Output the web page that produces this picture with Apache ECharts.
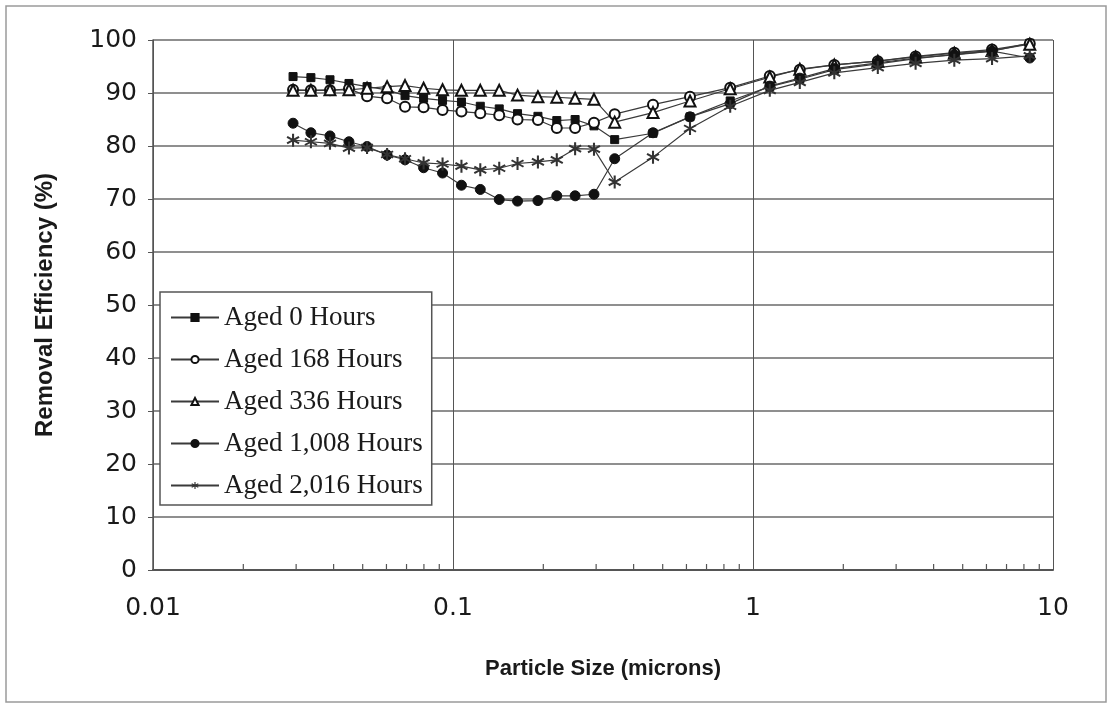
<!DOCTYPE html>
<html>
<head>
<meta charset="utf-8">
<script src="https://cdn.jsdelivr.net/npm/echarts@6/dist/echarts.min.js"></script>
<style>
  html, body { margin: 0; padding: 0; background: #fff; }
  #chart { width: 1112px; height: 708px; }
</style>
</head>
<body>
<div id="chart"></div>
<script>
// particle size channels (microns)
const sizes = [0.0293, 0.0336, 0.0389, 0.045, 0.0517, 0.0603, 0.0692, 0.0798, 0.0923, 0.1067,
  0.1233, 0.1426, 0.1641, 0.1919, 0.2218, 0.2553, 0.2951, 0.3459, 0.4642, 0.6166,
  0.8395, 1.1376, 1.4322, 1.8664, 2.6062, 3.4834, 4.6881, 6.2632, 8.3672];

const aged0 = [93.1, 92.9, 92.5, 91.8, 91.2, 90.6, 89.5, 89.0, 88.6, 88.3, 87.5, 87.0, 86.1, 85.6, 84.8,
  85.0, 83.8, 81.2, 82.4, 85.5, 88.5, 91.2, 92.6, 94.4, 95.5, 96.5, 97.3, 97.9, 99.4];
const aged168 = [90.6, 90.5, 90.5, 90.8, 89.4, 89.0, 87.4, 87.3, 86.8, 86.5, 86.2, 85.8, 85.0, 84.9, 83.4,
  83.4, 84.4, 86.0, 87.8, 89.3, 91.0, 93.2, 94.4, 95.3, 96.0, 96.9, 97.6, 98.2, 99.3];
const aged336 = [90.5, 90.5, 90.6, 90.6, 90.9, 91.2, 91.4, 90.9, 90.6, 90.5, 90.5, 90.5, 89.6, 89.3, 89.2,
  89.0, 88.8, 84.5, 86.3, 88.5, 90.8, 93.0, 94.5, 95.3, 96.0, 96.8, 97.5, 98.0, 99.2];
const aged1008 = [84.3, 82.5, 81.9, 80.8, 79.9, 78.3, 77.4, 75.9, 74.9, 72.6, 71.8, 69.9, 69.6, 69.7, 70.6,
  70.6, 70.9, 77.6, 82.5, 85.5, 88.0, 91.3, 92.8, 94.6, 95.7, 96.6, 97.2, 97.9, 96.6];
const aged2016 = [81.1, 80.8, 80.5, 79.6, 79.7, 78.4, 77.6, 76.8, 76.6, 76.2, 75.5, 75.8, 76.7, 77.0, 77.4,
  79.5, 79.4, 73.2, 77.9, 83.3, 87.5, 90.5, 92.0, 93.8, 94.8, 95.6, 96.2, 96.5, 97.0];

const seriesNames = ['Aged 0 Hours', 'Aged 168 Hours', 'Aged 336 Hours', 'Aged 1,008 Hours', 'Aged 2,016 Hours'];

// minor tick positions on the log axis
const minorTicks = [0.02, 0.03, 0.04, 0.05, 0.06, 0.07, 0.08, 0.09,
  0.2, 0.3, 0.4, 0.5, 0.6, 0.7, 0.8, 0.9,
  2, 3, 4, 5, 6, 7, 8, 9];

// asterisk marker (three thin bars)
const asterisk = 'path://M-0.15,-1L0.15,-1L0.15,1L-0.15,1Z' +
  'M0.791,-0.630L0.941,-0.370L-0.791,0.630L-0.941,0.370Z' +
  'M-0.941,-0.370L-0.791,-0.630L0.941,0.370L0.791,0.630Z';

function pairs(vals) {
  return sizes.map((s, i) => [s, vals[i]]);
}

const lineColor = '#3a3a3a';

function mkSeries(name, vals, symbol, size, fill) {
  return {
    name: name,
    type: 'line',
    data: pairs(vals),
    symbol: symbol,
    symbolSize: size,
    showAllSymbol: true,
    lineStyle: { color: lineColor, width: 1.2 },
    itemStyle: { color: fill, borderColor: '#111', borderWidth: 1 },
    z: 3
  };
}

const chart = echarts.init(document.getElementById('chart'));
chart.setOption({
  backgroundColor: '#fff',
  animation: false,
  graphic: [{
    type: 'rect',
    shape: { x: 6, y: 6, width: 1100, height: 696 },
    style: { fill: 'none', stroke: '#9a9a9a', lineWidth: 1.5 },
    z: -1
  }],
  grid: { left: 153, right: 59, top: 40, bottom: 138 },
  legend: {
    data: seriesNames,
    orient: 'vertical',
    left: 160,
    top: 292,
    padding: [12, 9, 6, 10],
    itemWidth: 48,
    itemHeight: 9,
    itemGap: 15,
    backgroundColor: '#fff',
    borderColor: '#555',
    borderWidth: 1.5,
    textStyle: { fontFamily: 'Liberation Serif', fontSize: 27, lineHeight: 27, color: '#1a1a1a' }
  },
  xAxis: {
    type: 'log',
    logBase: 10,
    min: 0.01,
    max: 10,
    name: 'Particle Size (microns)',
    nameLocation: 'middle',
    nameGap: 88,
    nameTextStyle: { fontFamily: 'Liberation Sans', fontWeight: 'bold', fontSize: 22, color: '#1a1a1a' },
    axisLine: { show: true, lineStyle: { color: '#555', width: 2 } },
    axisTick: { show: false },
    axisLabel: {
      margin: 26,
      fontFamily: 'DejaVu Sans', fontSize: 25, color: '#1a1a1a',
      formatter: v => String(parseFloat(Number(v).toPrecision(2)))
    },
    splitLine: { show: true, lineStyle: { color: '#555', width: 1 } }
  },
  yAxis: {
    type: 'value',
    min: 0,
    max: 100,
    interval: 10,
    name: 'Removal Efficiency (%)',
    nameLocation: 'middle',
    nameGap: 96,
    nameTextStyle: { fontFamily: 'Liberation Sans', fontWeight: 'bold', fontSize: 24, color: '#1a1a1a' },
    axisLine: { show: true, lineStyle: { color: '#555', width: 1.5 } },
    axisTick: { show: true, length: 5, lineStyle: { color: '#555' } },
    axisLabel: { margin: 16, fontFamily: 'DejaVu Sans', fontSize: 25, color: '#1a1a1a' },
    splitLine: { show: true, lineStyle: { color: '#6a6a6a', width: 1.6 } }
  },
  series: [
    mkSeries(seriesNames[0], aged0, 'rect', 8, '#111'),
    mkSeries(seriesNames[1], aged168, 'emptyCircle', 10, '#111'),
    mkSeries(seriesNames[2], aged336, 'emptyTriangle', 11, '#111'),
    mkSeries(seriesNames[3], aged1008, 'circle', 10, '#111'),
    Object.assign(mkSeries(seriesNames[4], aged2016, asterisk, 13, '#333'), {
      itemStyle: { color: '#333', borderWidth: 0 }
    }),
    {
      type: 'custom',
      silent: true,
      data: minorTicks.map(v => [v, 0]),
      encode: { x: 0, y: 1 },
      renderItem: function (params, api) {
        const p = api.coord([api.value(0), 0]);
        return {
          type: 'line',
          shape: { x1: p[0], y1: p[1], x2: p[0], y2: p[1] - 6 },
          style: { stroke: '#555', lineWidth: 1.2 }
        };
      },
      z: 4
    }
  ]
});
</script>
</body>
</html>
